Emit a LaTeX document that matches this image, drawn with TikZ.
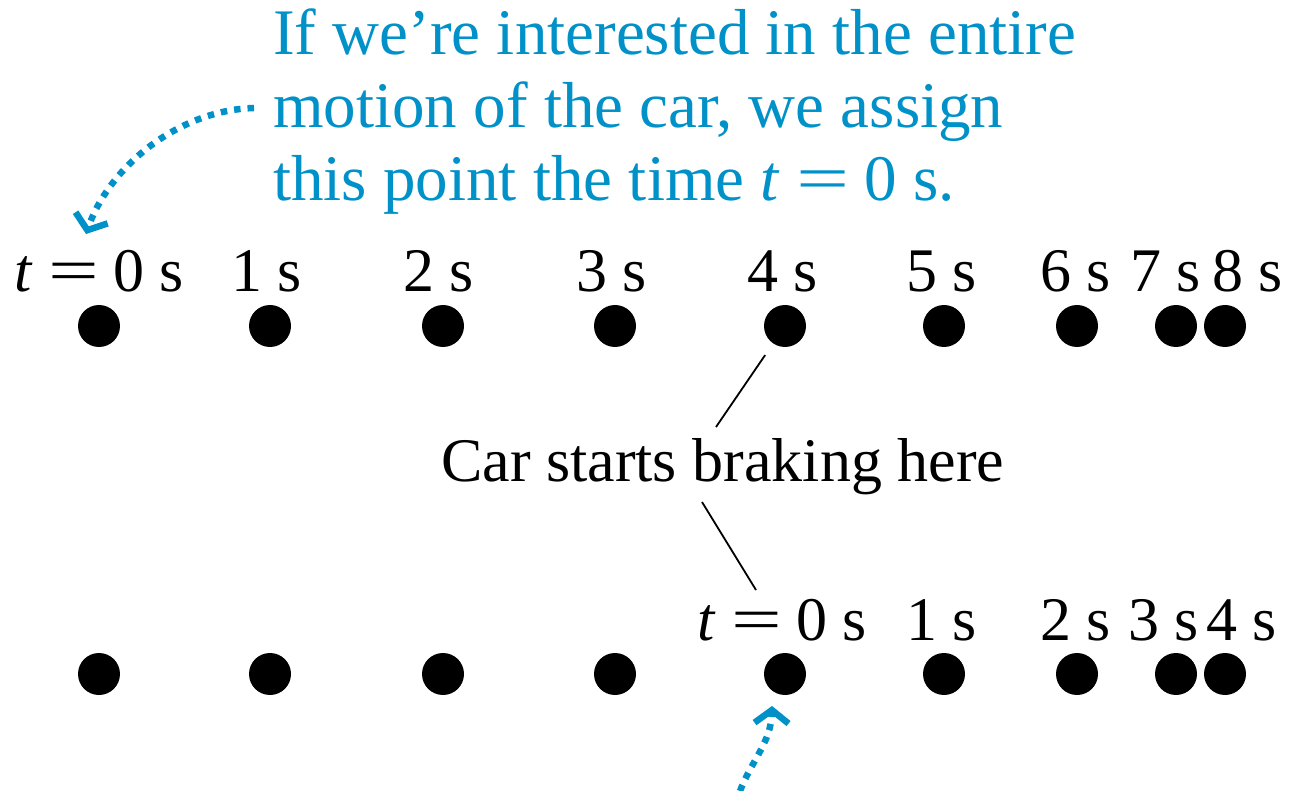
\documentclass[tikz,border=0pt]{standalone}
\usepackage{fontspec}
\setmainfont{Liberation Serif}
\usetikzlibrary{arrows.meta}
\definecolor{blueann}{RGB}{0,145,200}
\newcommand{\teqz}{\textit{t}\kern0.26em\scalebox{1.45}[1]{=}\kern0.22em0 s}
\begin{document}
\begin{tikzpicture}[x=1pt,y=-1pt,
  dot/.style={circle,fill=black,inner sep=0pt,minimum size=42pt},
  lbl/.style={anchor=base west,inner sep=0pt,font=\fontsize{62}{73}\selectfont},
  note/.style={anchor=base west,inner sep=0pt,text=blueann,font=\fontsize{65}{73}\selectfont},
  cue/.style={draw=blueann,line width=6.5pt,dash pattern=on 6.5pt off 7pt,-{Straight Barb[length=13pt,width=34pt]}},
  lead/.style={line width=1.8pt}]
\useasboundingbox (0,0) rectangle (1291,791);
% dots
\foreach \n/\x in {1/99,2/270,3/443,4/615,5/785,6/944,7/1077,8/1176,9/1225} {
  \node[dot] (d\n) at (\x,326) {};
  \node[dot] (e\n) at (\x,674) {};
}
% top labels
\node[lbl] (lt0) at (14,292) {\teqz};
\node[lbl] (lt1) at (231,292) {1 s};
\node[lbl] (lt2) at (403,292) {2 s};
\node[lbl] (lt3) at (576,292) {3 s};
\node[lbl] (lt4) at (747,292) {4 s};
\node[lbl] (lt5) at (906,292) {5 s};
\node[lbl] (lt6) at (1040,292) {6 s};
\node[lbl] (lt7) at (1130,292) {7 s};
\node[lbl] (lt8) at (1212,292) {8 s};
% bottom labels
\node[lbl] (lb0) at (697,640) {\teqz};
\node[lbl] (lb1) at (906,640) {1 s};
\node[lbl] (lb2) at (1040,640) {2 s};
\node[lbl] (lb3) at (1128,640) {3 s};
\node[lbl] (lb4) at (1206,640) {4 s};
% caption
\node[lbl] (brake) at (441,482) {Car starts braking here};
\coordinate (u2) at (716,427);
\draw[lead,shorten <=14pt] (d5) -- (u2);
\coordinate (w1) at (702,502);
\coordinate (w2) at (756,590);
\draw[lead] (w1) -- (w2);
% blue note
\node[note] (n1) at (273,55) {If we’re interested in the entire};
\node[note] (n2) at (273,128) {motion of the car, we assign};
\node[note] (n3) at (273,201) {this point the time \teqz.};
\coordinate (a1) at (254,108);
\coordinate (a2) at (86,234);
\draw[cue] (a1) .. controls (180,110) and (110,165) .. (a2);
\coordinate (b1) at (740,791);
\coordinate (b2) at (772,706);
\draw[cue] (b1) .. controls (752,760) and (771,742) .. (b2);
\end{tikzpicture}
\end{document}
